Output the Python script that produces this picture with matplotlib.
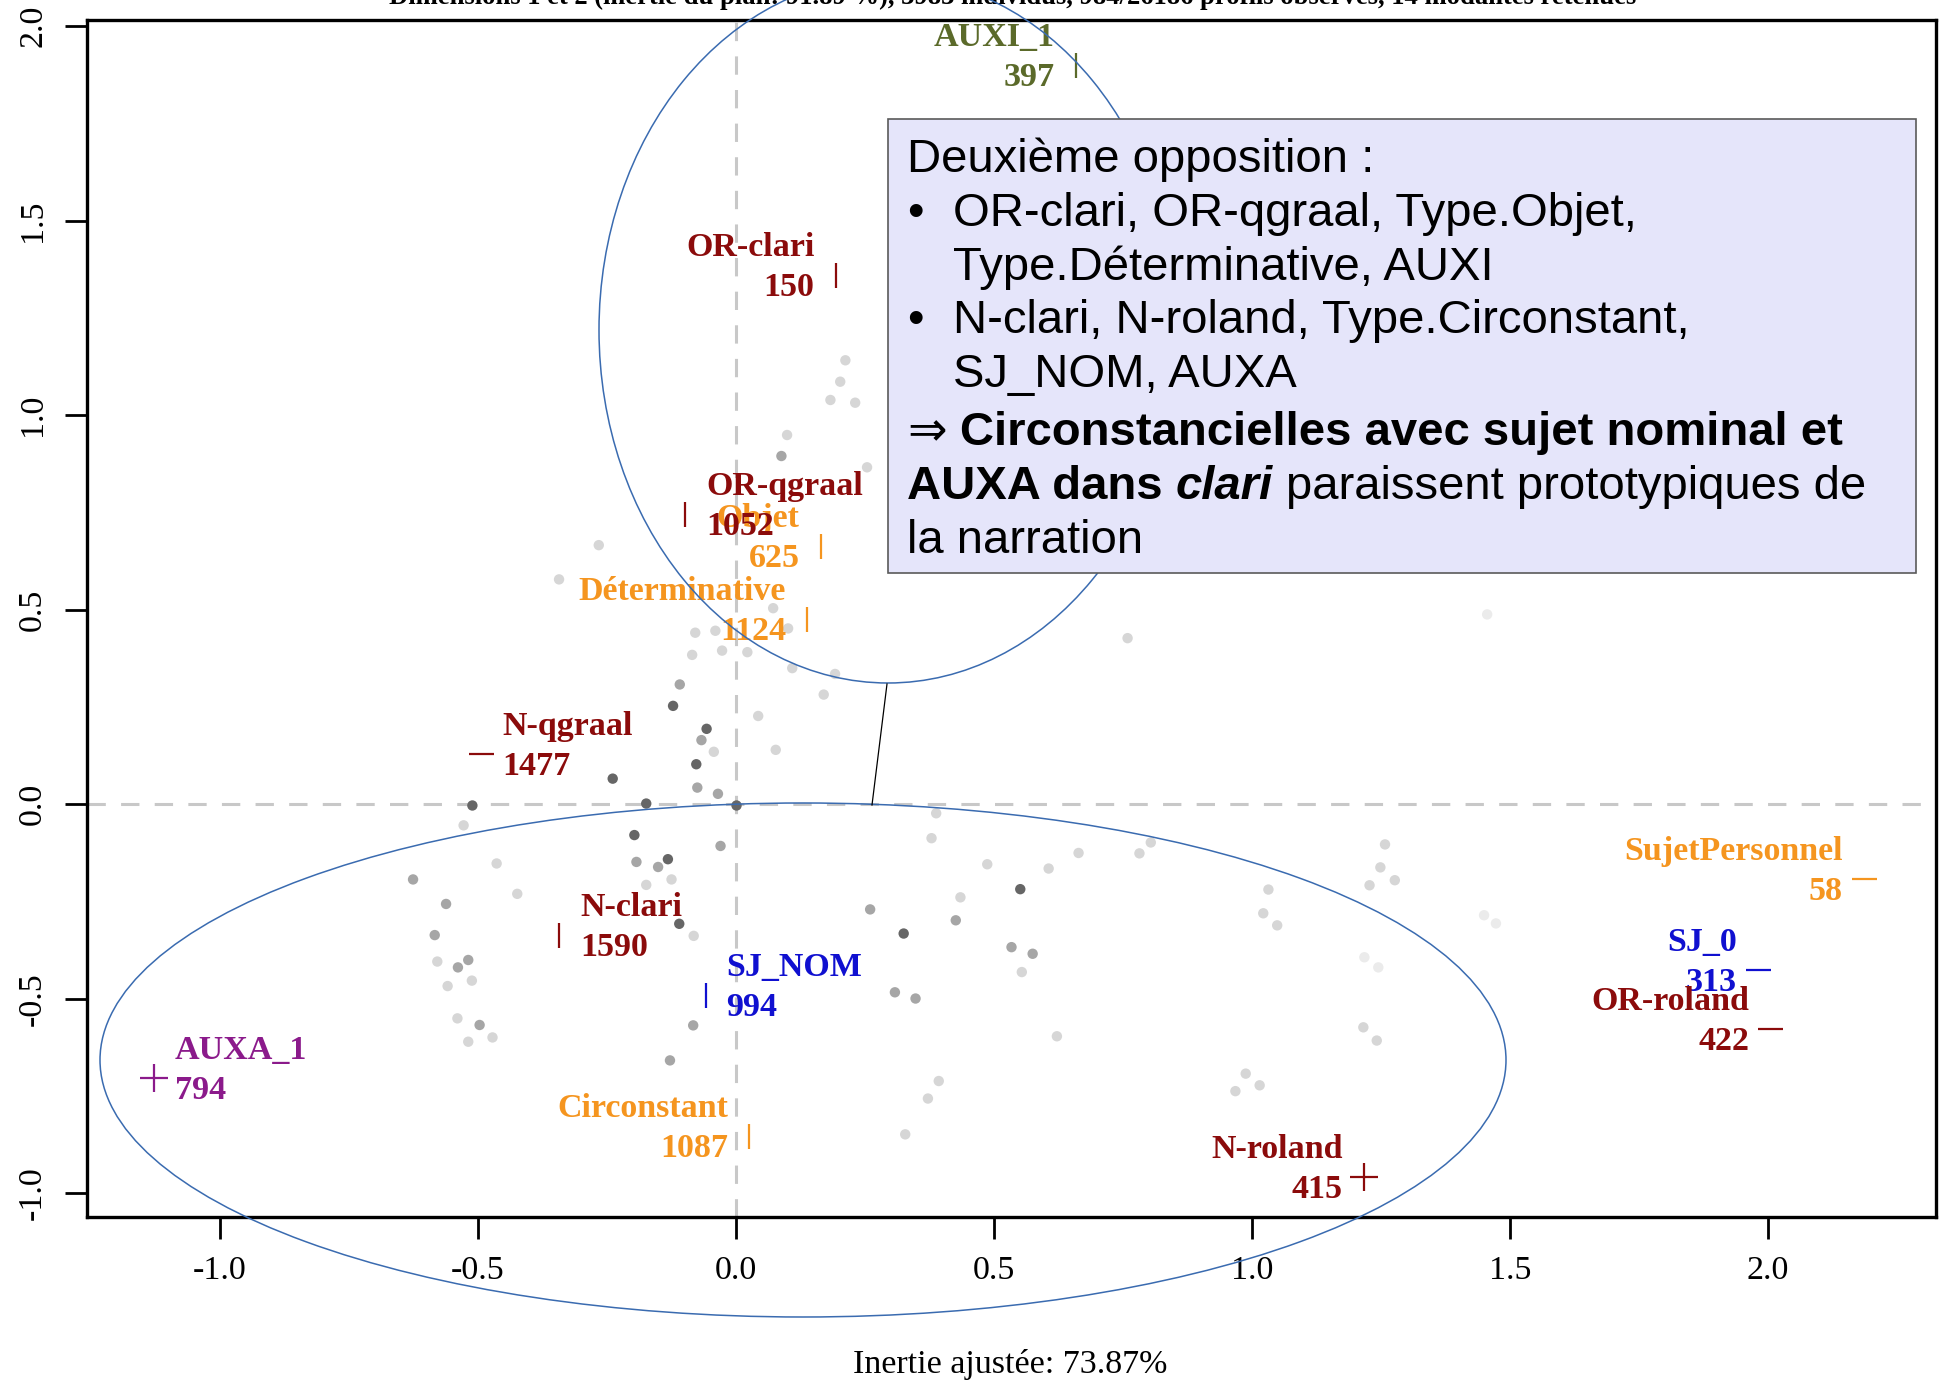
import matplotlib
matplotlib.use('Agg')
import matplotlib.pyplot as plt
from matplotlib.patches import Ellipse, Rectangle
import numpy as np

# ---------------- data ----------------
names = ["AUXI_1", "OR-clari", "OR-qgraal", "Objet", "Déterminative", "N-qgraal",
         "N-clari", "SJ_NOM", "AUXA_1", "Circonstant", "N-roland", "SujetPersonnel",
         "SJ_0", "OR-roland"]
counts = [397, 150, 1052, 625, 1124, 1477, 1590, 994, 794, 1087, 415, 58, 313, 422]
cat_x = [0.659, 0.193, -0.098, 0.164, 0.138, -0.494, -0.343, -0.059, -1.129,
         0.025, 1.217, 2.186, 1.981, 2.005]
cat_y = [1.900, 1.359, 0.747, 0.664, 0.476, 0.129, -0.336, -0.491, -0.702,
         -0.853, -0.958, -0.193, -0.425, -0.578]
cat_marker = ['|', '|', '|', '|', '|', '_', '|', '|', '+', '|', '+', '_', '_', '_']
cat_group = ['AUXI', 'OR', 'OR', 'Type', 'Type', 'N', 'N', 'SJ', 'AUXA', 'Type',
             'N', 'Type', 'SJ', 'OR']
cat_side = ['L', 'L', 'R', 'L', 'L', 'R', 'R', 'R', 'R', 'L', 'L', 'L', 'L', 'L']
group_colors = {'AUXI': '#5B6A2A', 'OR': '#8B0B0B', 'N': '#8B0B0B',
                'Type': '#F5951F', 'SJ': '#1010D0', 'AUXA': '#8B1A8B'}

# individuals (grey points)
dark_x = [-0.122, -0.057, -0.077, -0.239, -0.511, -0.174, 0.001, -0.197, -0.132, -0.110, 0.551, 0.325]
dark_y = [0.253, 0.194, 0.103, 0.066, -0.003, 0.002, -0.003, -0.079, -0.141, -0.307, -0.218, -0.332]
med_x = [-0.075, -0.151, -0.626, -0.562, -0.584, -0.539, -0.519, -0.083, -0.128, -0.109, -0.067,
         -0.030, -0.035, -0.497, -0.193, 0.088, 0.260, 0.426, 0.308, 0.348, 0.534, 0.575]
med_y = [0.043, -0.161, -0.193, -0.256, -0.336, -0.419, -0.400, -0.568, -0.658, 0.308, 0.165,
         -0.107, 0.027, -0.567, -0.148, 0.895, -0.270, -0.298, -0.483, -0.499, -0.367, -0.384]
light_x = [-0.043, 0.043, 0.077, -0.559, -0.540, -0.519, -0.174, -0.125, -0.082, -0.343, -0.079,
           -0.040, -0.027, -0.085, 0.192, 0.170, -0.528, -0.464, -0.424, -0.579, -0.512, -0.472,
           0.487, 0.606, 0.379, 0.554, 0.622, 0.393, 0.372, 0.328, 1.032, 1.022, 1.049, 1.258,
           1.249, 1.277, 1.228, 1.216, 1.242, 0.968, 0.988, 0.435, 0.664, 0.388, 0.212, 0.202,
           0.183, 0.231, 0.099, -0.266, 0.022, 0.109, 0.072, 0.254, 0.101, 0.759, 0.782, 0.804,
           1.015]
light_y = [0.135, 0.227, 0.140, -0.467, -0.550, -0.610, -0.207, -0.193, -0.338, 0.578, 0.441,
           0.446, 0.395, 0.384, 0.335, 0.282, -0.054, -0.152, -0.230, -0.404, -0.453, -0.599,
           -0.154, -0.165, -0.087, -0.431, -0.596, -0.711, -0.756, -0.848, -0.219, -0.280, -0.311,
           -0.103, -0.162, -0.195, -0.208, -0.573, -0.607, -0.737, -0.692, -0.239, -0.125, -0.023,
           1.141, 1.086, 1.039, 1.032, 0.949, 0.666, 0.391, 0.350, 0.504, 0.866, 0.452, 0.427,
           -0.126, -0.098, -0.722]
faint_x = [1.450, 1.473, 1.218, 1.245, 1.456]
faint_y = [-0.285, -0.306, -0.393, -0.419, 0.488]

x_ticks = [-1.0, -0.5, 0.0, 0.5, 1.0, 1.5, 2.0]
x_ticklabels = ['-1.0', '-0.5', '0.0', '0.5', '1.0', '1.5', '2.0']
y_ticks = [-1.0, -0.5, 0.0, 0.5, 1.0, 1.5, 2.0]
y_ticklabels = ['-1.0', '-0.5', '0.0', '0.5', '1.0', '1.5', '2.0']

title = ("Dimensions 1 et 2 (inertie du plan: 91.89 %), 3983 individus, "
         "984/26186 profils observés, 14 modalités retenues")
xlabel = "Inertie ajustée: 73.87%"

# ---------------- figure ----------------
W, H = 1944, 1381
fig = plt.figure(figsize=(W / 100, H / 100), dpi=100)
L, R, T, B = 87, 1936, 20, 1217
ax = fig.add_axes([L / W, 1 - B / H, (R - L) / W, (B - T) / H])
ax.set_xlim(-1.258, 2.326)
ax.set_ylim(-1.0604, 2.0154)

serif = 'Liberation Serif'

ax.axhline(0, color='#C8C8C8', lw=2.2, ls=(0, (6, 5)), zorder=1)
ax.axvline(0, color='#C8C8C8', lw=2.2, ls=(0, (6, 5)), zorder=1)

ax.scatter(faint_x, faint_y, s=56, color='0.92', edgecolors='none', zorder=2)
ax.scatter(light_x, light_y, s=56, color='0.84', edgecolors='none', zorder=2)
ax.scatter(med_x, med_y, s=56, color='0.65', edgecolors='none', zorder=2)
ax.scatter(dark_x, dark_y, s=56, color='0.40', edgecolors='none', zorder=2)

for i in range(len(names)):
    col = group_colors[cat_group[i]]
    m = cat_marker[i]
    ms = 20 if m == '+' else 18
    ax.plot([cat_x[i]], [cat_y[i]], marker=m, color=col, markersize=ms, mew=1.6,
            ls='none', zorder=4)
    left = cat_side[i] == 'L'
    dx = -21 * 0.72 if left else 21 * 0.72
    ha = 'right' if left else 'left'
    zo = 6 if names[i] in ('OR-qgraal', 'OR-roland') else 5
    ax.annotate(names[i], (cat_x[i], cat_y[i]), xytext=(dx, 19 * 0.72),
                textcoords='offset points', ha=ha, va='baseline', color=col,
                fontsize=24.5, fontweight='bold', family=serif, zorder=zo)
    ax.annotate(str(counts[i]), (cat_x[i], cat_y[i]), xytext=(dx, -21 * 0.72),
                textcoords='offset points', ha=ha, va='baseline', color=col,
                fontsize=24.5, fontweight='bold', family=serif, zorder=zo)

for s in ax.spines.values():
    s.set_linewidth(2.4)
ax.set_xticks(x_ticks)
ax.set_xticklabels(x_ticklabels, family=serif, fontsize=24.5)
ax.set_yticks(y_ticks)
ax.set_yticklabels(y_ticklabels, family=serif, fontsize=24.5, rotation=90, va='center')
ax.tick_params(axis='both', length=16, width=2, direction='out')
ax.tick_params(axis='x', pad=12)
ax.tick_params(axis='y', pad=12)

ax.set_xlabel(xlabel, family=serif, fontsize=24.5)
ax.xaxis.set_label_coords((1010 - L) / (R - L), (B - 1373) / (B - T))
ax.xaxis.label.set_verticalalignment('baseline')

fig.text(1013 / W, 1 - 4 / H, title, ha='center', va='baseline', fontsize=19.2,
         fontweight='bold', family=serif)

# ---------------- overlay annotations (pixel coordinates) ----------------
ov = fig.add_axes([0, 0, 1, 1], zorder=5)
ov.set_xlim(0, W)
ov.set_ylim(H, 0)
ov.axis('off')
ov.patch.set_alpha(0)

ell_col = '#3A6BB0'
ov.add_patch(Ellipse((888, 330), 578, 706, fill=False, ec=ell_col, lw=1.1, zorder=2))
ov.add_patch(Ellipse((803, 1060), 1406, 514, fill=False, ec=ell_col, lw=1.1, zorder=2))
ov.plot([887, 872], [684, 805], color='black', lw=0.9, zorder=2)

ov.add_patch(Rectangle((888, 119), 1916 - 888, 573 - 119, fc='#E5E5FA', ec='#5A5A5A',
                       lw=1.2, zorder=3))

renderer = fig.canvas.get_renderer()
sans = ['Liberation Sans', 'DejaVu Sans']
FS = 34


def tw(s, **kw):
    t = ov.text(0, 0, s, fontsize=FS, family=sans, **kw)
    w = t.get_window_extent(renderer).width
    t.remove()
    return w


def space_w(**kw):
    return tw('a a', **kw) - tw('aa', **kw)


def draw_line(parts, x, y):
    for k, (s, kw) in enumerate(parts):
        if k > 0:
            x += space_w(**kw)
        t = ov.text(x, y, s, fontsize=FS, family=sans, va='baseline', ha='left',
                    zorder=4, **kw)
        x += t.get_window_extent(renderer).width


reg = {}
bold = {'fontweight': 'bold'}
bolditalic = {'fontweight': 'bold', 'fontstyle': 'italic'}
X0, X1 = 907, 953
draw_line([("Deuxième opposition :", reg)], X0, 172)
draw_line([("•", reg)], X0, 226)
draw_line([("OR-clari, OR-qgraal, Type.Objet,", reg)], X1, 226)
draw_line([("Type.Déterminative, AUXI", reg)], X1, 280)
draw_line([("•", reg)], X0, 333)
draw_line([("N-clari, N-roland, Type.Circonstant,", reg)], X1, 333)
draw_line([("SJ_NOM, AUXA", reg)], X1, 387)
draw_line([("⇒", reg), ("Circonstancielles avec sujet nominal et", bold)], X0, 445)
draw_line([("AUXA dans", bold), ("clari", bolditalic),
           ("paraissent prototypiques de", reg)], X0, 499)
draw_line([("la narration", reg)], X0, 553)

fig.savefig('out.png', dpi=100)
